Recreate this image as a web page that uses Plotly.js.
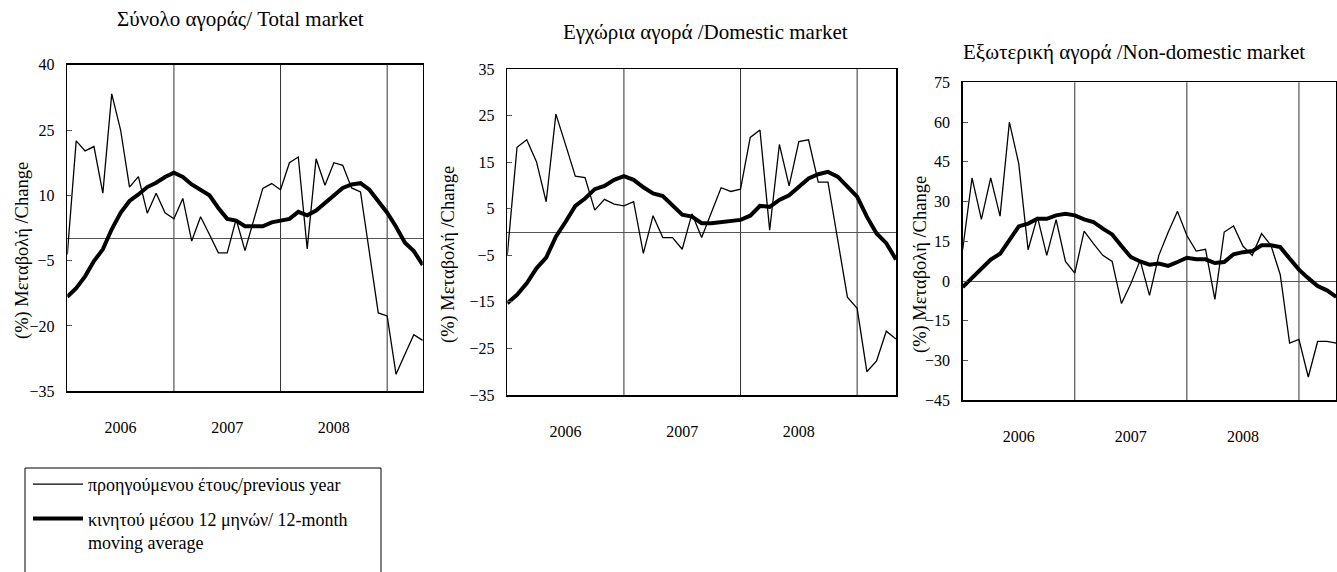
<!DOCTYPE html>
<html><head><meta charset="utf-8">
<script src="https://cdn.plot.ly/plotly-3.0.1.min.js"></script>
<style>html,body{margin:0;padding:0;background:#fff}#chart{width:1337px;height:572px}</style>
</head><body><div id="chart"></div>
<script>
const months = ['2006-01','2006-02','2006-03','2006-04','2006-05','2006-06','2006-07','2006-08','2006-09','2006-10','2006-11','2006-12',
  '2007-01','2007-02','2007-03','2007-04','2007-05','2007-06','2007-07','2007-08','2007-09','2007-10','2007-11','2007-12',
  '2008-01','2008-02','2008-03','2008-04','2008-05','2008-06','2008-07','2008-08','2008-09','2008-10','2008-11','2008-12',
  '2009-01','2009-02','2009-03','2009-04','2009-05'];
const yearLabels = ['2006','2007','2008'];
const yearMid = ['2006-07','2007-07','2008-07'];
const yearStarts = ['2007-01','2008-01','2009-01'];

const panelTitles = ['Σύνολο αγοράς/ Total market','Εγχώρια αγορά /Domestic market','Εξωτερική αγορά /Non-domestic market'];
const yTitle = '(%) Μεταβολή /Change';
const seriesNames = ['προηγούμενου έτους/previous year','κινητού μέσου 12 μηνών/ 12-month<br>moving average'];

const totalYoY = [-3.6,22.5,20.2,21.2,10.5,33.3,25.0,11.9,14.3,5.9,10.5,6.0,4.6,9.3,-0.5,5.1,1.0,-3.2,-3.2,4.5,-2.7,4.5,11.6,12.7,11.3,17.5,18.8,-2.3,18.4,12.3,17.5,16.9,11.7,10.8,-3.0,-17.0,-17.7,-31.1,-26.5,-22.0,-23.3];
const totalMA = [-13.3,-11.3,-8.6,-5.1,-2.4,2.2,6.0,8.7,10.2,11.9,12.9,14.2,15.2,14.2,12.5,11.3,10.0,7.1,4.6,4.2,2.9,2.9,2.9,3.8,4.2,4.6,6.2,5.4,6.5,8.3,10.2,11.7,12.5,12.8,11.3,8.8,6.0,2.8,-0.9,-2.8,-6.0];
const domYoY = [-4.9,18.2,19.8,15.1,6.5,25.3,18.7,12.0,11.7,4.7,7.0,6.0,5.6,6.5,-4.6,3.5,-1.2,-1.2,-3.7,3.9,-1.2,4.1,9.5,8.7,9.2,20.3,21.9,0.4,18.8,9.9,19.4,19.8,10.7,10.7,-1.7,-14.0,-16.4,-30.0,-27.7,-21.3,-23.0];
const domMA = [-15.3,-13.5,-11.0,-7.8,-5.5,-1.0,2.2,5.6,7.2,9.2,9.9,11.2,12.0,11.2,9.6,8.3,7.7,5.6,3.7,3.3,1.9,1.9,2.1,2.2,2.6,3.5,5.6,5.4,6.9,7.9,9.7,11.5,12.4,12.9,11.9,9.7,7.6,3.3,-0.3,-2.4,-5.9];
const nonYoY = [12.0,38.9,23.3,38.9,24.5,60.0,44.3,11.8,24.2,9.7,23.2,7.4,3.0,18.8,14.1,9.7,7.4,-8.5,-1.0,7.8,-5.4,9.7,18.4,26.3,17.2,11.3,12.0,-6.9,18.5,20.8,13.2,9.7,17.9,13.5,2.4,-23.4,-22.0,-36.2,-22.8,-22.8,-23.4];
const nonMA = [-2.3,1.1,4.9,8.1,10.3,15.4,20.6,21.7,23.5,23.5,24.8,25.4,24.8,23.3,22.3,19.8,17.6,13.2,9.1,7.4,6.2,6.6,5.7,7.2,8.8,8.2,8.2,6.8,7.2,10.1,10.9,11.3,13.5,13.5,12.8,8.5,4.3,1.1,-1.9,-3.5,-6.0];

const yRanges = [[-35,40],[-35,35],[-45,75]];
const yDticks = [15,10,15];

const W = 1337, H = 572;
const px = v => v / W, py = v => 1 - v / H;
const FONT = 'Liberation Serif, Times New Roman, serif';

const panels = [
  {yoy: totalYoY, ma: totalMA, x: [67.3, 422.7], y: [64.7, 391.3]},
  {yoy: domYoY, ma: domMA, x: [507.3, 896], y: [69, 395]},
  {yoy: nonYoY, ma: nonMA, x: [962.7, 1336.3], y: [82.3, 400.3]}
];

const data = [];
const layout = {
  width: W, height: H,
  margin: {l: 0, r: 0, t: 0, b: 0},
  paper_bgcolor: '#fff', plot_bgcolor: '#fff',
  font: {family: FONT, color: '#000', size: 16},
  showlegend: true,
  legend: {x: px(28), y: py(466), xanchor: 'left', yanchor: 'top', bgcolor: 'rgba(0,0,0,0)',
           borderwidth: 0, font: {size: 18, family: FONT}, valign: 'top', traceorder: 'grouped',
           tracegroupgap: 8, itemwidth: 50},
  shapes: [], annotations: []
};

panels.forEach((p, k) => {
  const s = k === 0 ? '' : String(k + 1);
  const xa = 'x' + s, ya = 'y' + s;
  data.push({x: months, y: p.yoy, xaxis: xa, yaxis: ya, type: 'scatter', mode: 'lines',
    name: seriesNames[0], legendgroup: 'a', showlegend: k === 0, line: {color: '#000', width: 1.3}});
  data.push({x: months, y: p.ma, xaxis: xa, yaxis: ya, type: 'scatter', mode: 'lines',
    name: seriesNames[1], legendgroup: 'b', showlegend: k === 0, line: {color: '#000', width: 4}});
  layout['xaxis' + s] = {
    domain: [px(p.x[0]), px(p.x[1])], anchor: ya, type: 'category', range: [0, months.length - 1],
    showline: true, mirror: true, linecolor: '#000', linewidth: 1.5, showgrid: false, zeroline: false,
    ticks: '', tickmode: 'array', tickvals: yearMid, ticktext: yearLabels, ticklabelstandoff: 21,
    tickfont: {size: 16, family: FONT}, fixedrange: true
  };
  layout['yaxis' + s] = {
    domain: [py(p.y[1]), py(p.y[0])], anchor: xa, range: yRanges[k], tick0: yRanges[k][0], dtick: yDticks[k],
    showline: true, mirror: true, linecolor: '#000', linewidth: 1.5, showgrid: false,
    zeroline: true, zerolinecolor: '#555', zerolinewidth: 1,
    ticks: 'inside', ticklen: 5, tickcolor: '#555', ticklabelstandoff: 8,
    tickfont: {size: 16, family: FONT}, fixedrange: true
  };
  yearStarts.forEach(m => layout.shapes.push({type: 'line', xref: xa, yref: ya + ' domain', x0: m, x1: m, y0: 0, y1: 1,
    line: {color: '#333', width: 1}, layer: 'below'}));
});

const titlePos = [[240, 19], [705, 32], [1134, 52]];
titlePos.forEach((t, k) => layout.annotations.push({text: panelTitles[k], xref: 'paper', yref: 'paper',
  x: px(t[0]), y: py(t[1]), xanchor: 'center', yanchor: 'middle', showarrow: false, font: {size: 21, family: FONT}}));
const yTitlePos = [[23, 251], [448, 255], [920, 265]];
yTitlePos.forEach(t => layout.annotations.push({text: yTitle, textangle: -90, xref: 'paper', yref: 'paper',
  x: px(t[0]), y: py(t[1]), xanchor: 'center', yanchor: 'middle', showarrow: false, font: {size: 18.5, family: FONT}}));

layout.shapes.push({type: 'rect', xref: 'paper', yref: 'paper', x0: px(25), x1: px(381), y0: py(590), y1: py(468),
  line: {color: '#000', width: 1}, fillcolor: 'rgba(0,0,0,0)'});

Plotly.newPlot('chart', data, layout, {displayModeBar: false, staticPlot: true});
</script>
</body></html>
